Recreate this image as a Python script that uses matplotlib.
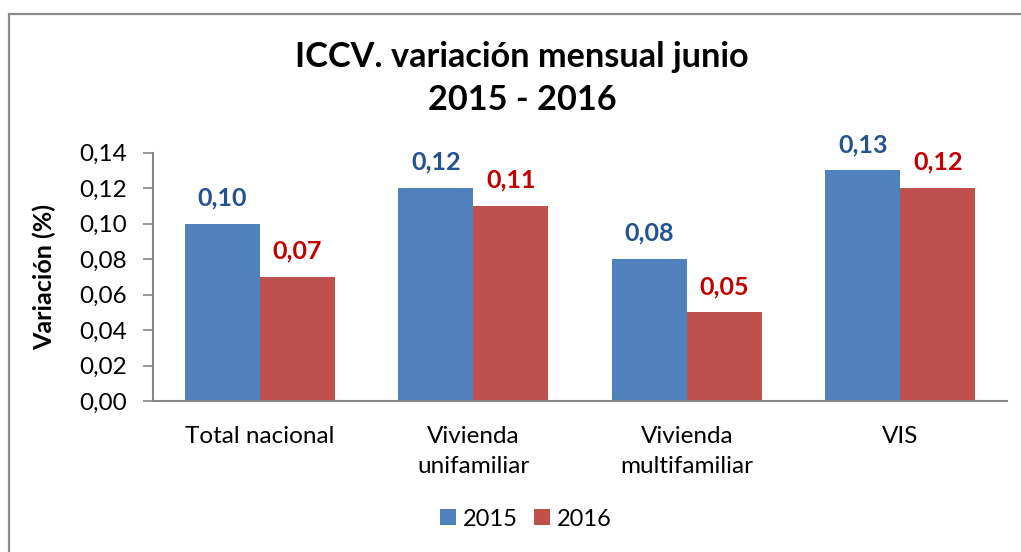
import matplotlib
matplotlib.use("Agg")
import matplotlib.pyplot as plt
import numpy as np
from matplotlib.patches import Rectangle

categories = ["Total nacional", "Vivienda\nunifamiliar", "Vivienda\nmultifamiliar", "VIS"]
series_names = ["2015", "2016"]
values_2015 = [0.10, 0.12, 0.08, 0.13]
values_2016 = [0.07, 0.11, 0.05, 0.12]
yticks = [0.00, 0.02, 0.04, 0.06, 0.08, 0.10, 0.12, 0.14]

bar_colors = ["#4F81BD", "#C0504D"]
label_colors = ["#24528F", "#C00000"]

plt.rcParams['font.family'] = ['Lato', 'DejaVu Sans']

W, H = 1021, 552
fig = plt.figure(figsize=(W / 100, H / 100), dpi=100)
ax = fig.add_axes([153 / W, 1 - 401 / H, (1007 - 153) / W, (401 - 152.5) / H])

# outer frame
fig.patches.append(Rectangle((8.5 / W, -0.1), 1.2, 1 - 13.5 / H + 0.1, transform=fig.transFigure,
                             fill=False, edgecolor="#8C8C8C", linewidth=1.6))

x = np.arange(len(categories))
bw = 0.352
for i, (vals, name) in enumerate(zip([values_2015, values_2016], series_names)):
    pos = x + (i - 0.5) * bw
    ax.bar(pos, vals, width=bw, color=bar_colors[i], label=name, zorder=2)
    for xp, v in zip(pos, vals):
        ax.annotate(f"{v:.2f}".replace(".", ","), (xp, v), xytext=(0, 18.5),
                    textcoords="offset points", ha="center", va="center",
                    fontsize=18, fontweight="bold", color=label_colors[i])

ax.set_xlim(-0.5, len(categories) - 0.5)
ax.set_ylim(0, 0.14)
ax.set_yticks(yticks)
ax.set_yticklabels([f"{t:.2f}".replace(".", ",") for t in yticks], fontsize=17.5)
ax.set_xticks(x)
ax.set_xticklabels(categories, fontsize=17.5, linespacing=1.55)
ax.tick_params(axis="x", length=0, pad=18)
ax.tick_params(axis="y", length=7, width=1.2, color="#868686", pad=12)
for s in ["top", "right"]:
    ax.spines[s].set_visible(False)
for s in ["left", "bottom"]:
    ax.spines[s].set_color("#868686")
    ax.spines[s].set_linewidth(1.5)

ax.set_ylabel("Variación (%)", fontsize=18, fontweight="bold", labelpad=16)

fig.text(522 / W, 1 - 57 / H, "ICCV. variación mensual junio", ha="center", va="center",
         fontsize=24.7, fontweight="bold")
fig.text(522 / W, 1 - 100 / H, "2015 - 2016", ha="center", va="center",
         fontsize=24.7, fontweight="bold")

fig.legend(loc="center", bbox_to_anchor=(526 / W, 1 - 519 / H), ncol=2, frameon=False,
           fontsize=17, handlelength=0.65, handleheight=0.65, handletextpad=0.3,
           columnspacing=0.7)

fig.savefig("out.png", dpi=100)
